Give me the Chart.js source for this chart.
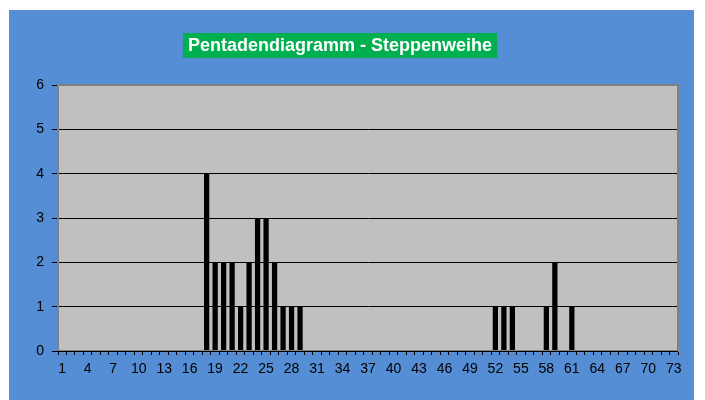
<!DOCTYPE html>
<html>
<head>
<meta charset="utf-8">
<script src="https://cdn.jsdelivr.net/npm/chart.js@4/dist/chart.umd.min.js"></script>
<style>
body { margin: 0; background: #ffffff; }
#wrap { position: absolute; left: 9px; top: 10px; width: 685px; height: 390px; background: #558ED5; }
</style>
</head>
<body>
<div id="wrap"><canvas id="chart"></canvas></div>
<script>
// Pentadendiagramm - Steppenweihe
const chartTitle = 'Pentadendiagramm - Steppenweihe';

// Pentade 1..73
const pentads = ['1','2','3','4','5','6','7','8','9','10','11','12','13','14','15','16','17','18','19','20',
    '21','22','23','24','25','26','27','28','29','30','31','32','33','34','35','36','37','38','39','40',
    '41','42','43','44','45','46','47','48','49','50','51','52','53','54','55','56','57','58','59','60',
    '61','62','63','64','65','66','67','68','69','70','71','72','73'];

// Beobachtungen pro Pentade
const counts = [0,0,0,0,0,0,0,0,0,0, 0,0,0,0,0,0,0,4,2,2,
    2,1,2,3,3,2,1,1,1,0, 0,0,0,0,0,0,0,0,0,0,
    0,0,0,0,0,0,0,0,0,0, 0,1,1,1,0,0,0,1,2,0,
    1,0,0,0,0,0,0,0,0,0, 0,0,0];

const yTicks = [0, 1, 2, 3, 4, 5, 6];

const FONT = '"Liberation Sans", Arial, sans-serif';

// plot background, border and title box
const decorPlugin = {
    id: 'decor',
    beforeDraw(chart) {
        const { ctx, chartArea: a } = chart;
        ctx.save();
        ctx.fillStyle = '#C0C0C0';
        ctx.fillRect(a.left, a.top, a.right - a.left, a.bottom - a.top);

        // title
        ctx.font = 'bold 18px ' + FONT;
        const w = ctx.measureText(chartTitle).width;
        const cx = 331;
        ctx.fillStyle = '#00B050';
        ctx.fillRect(cx - w / 2 - 5, 23, w + 10, 25);
        ctx.fillStyle = '#ffffff';
        ctx.textAlign = 'center';
        ctx.textBaseline = 'middle';
        ctx.fillText(chartTitle, cx, 36);
        ctx.restore();
    },
    afterDatasetsDraw(chart) {
        const { ctx, chartArea: a } = chart;
        ctx.save();
        ctx.strokeStyle = '#808080';
        ctx.lineWidth = 2;
        ctx.strokeRect(a.left, a.top, a.right - a.left, a.bottom - a.top);
        ctx.strokeStyle = '#000000';
        ctx.lineWidth = 1;
        ctx.beginPath();
        ctx.moveTo(a.left - 6, a.bottom + 0.5);
        ctx.lineTo(a.right, a.bottom + 0.5);
        ctx.stroke();
        ctx.restore();
    }
};

new Chart(document.getElementById('chart'), {
    type: 'bar',
    data: {
        labels: pentads,
        datasets: [{
            data: counts,
            backgroundColor: '#000000',
            borderWidth: 0,
            barPercentage: 0.62,
            categoryPercentage: 1.0
        }]
    },
    options: {
        responsive: true,
        maintainAspectRatio: false,
        animation: false,
        layout: { padding: { left: 0, right: 16, top: 75, bottom: 0 } },
        plugins: {
            legend: { display: false },
            title: { display: false },
            tooltip: { enabled: false }
        },
        scales: {
            x: {
                offset: true,
                grid: {
                    offset: true,
                    drawOnChartArea: false,
                    drawTicks: true,
                    tickLength: 4,
                    tickColor: '#000000'
                },
                border: { display: true, color: '#000000' },
                ticks: {
                    autoSkip: false,
                    maxRotation: 0,
                    padding: 6,
                    color: '#000000',
                    font: { family: FONT, size: 14 },
                    callback: function(value, index) {
                        return index % 3 === 0 ? pentads[index] : '';
                    }
                },
                afterFit(scale) { scale.height = 49; }
            },
            y: {
                min: yTicks[0],
                max: yTicks[yTicks.length - 1],
                grid: {
                    color: '#000000',
                    drawTicks: true,
                    tickLength: 6,
                    tickColor: '#000000'
                },
                border: { display: true, color: '#606060', width: 2 },
                ticks: {
                    stepSize: 1,
                    padding: 8,
                    color: '#000000',
                    font: { family: FONT, size: 14 }
                },
                afterFit(scale) { scale.width = 49; }
            }
        }
    },
    plugins: [decorPlugin]
});
</script>
</body>
</html>
